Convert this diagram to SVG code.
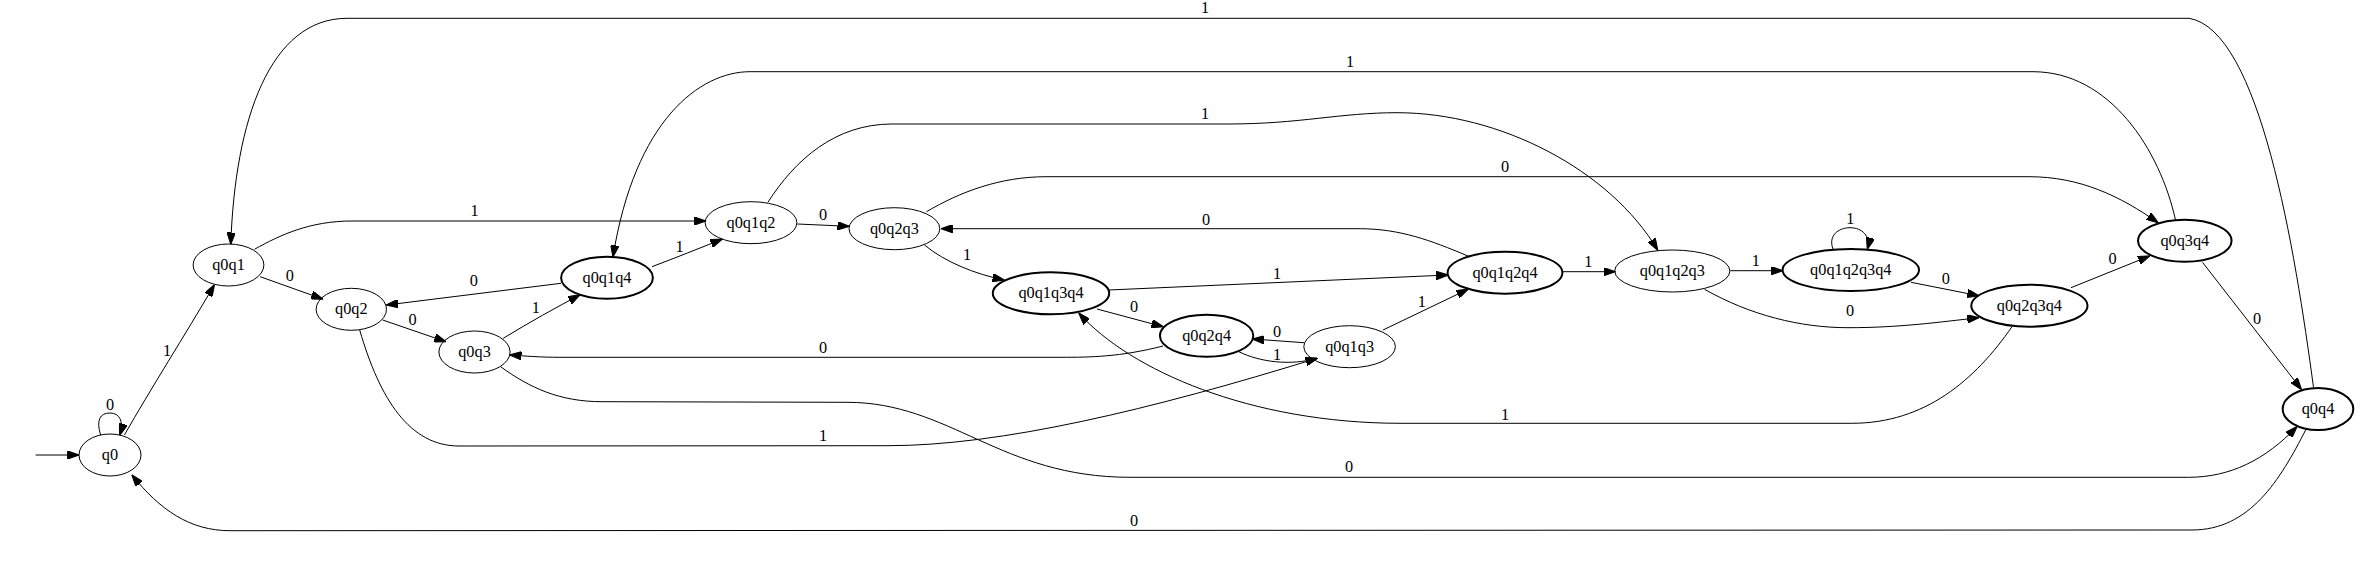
<svg xmlns="http://www.w3.org/2000/svg" width="2380" height="568" viewBox="0 0 2380 568">
<style>
.n ellipse{fill:none;stroke:#000;stroke-width:1}
.b ellipse{stroke-width:2}
text{font-family:"Liberation Serif","Times New Roman",serif;font-size:16.3px;text-anchor:middle;fill:#000}
#edges path{fill:none;stroke:#000;stroke-width:1;marker-end:url(#ah)}
</style>
<defs>
<marker id="ah" markerUnits="userSpaceOnUse" viewBox="0 0 12 8.4" markerWidth="12" markerHeight="8.4" refX="11.5" refY="4.2" orient="auto">
<path d="M0,0 L12,4.2 L0,8.4 z" fill="#000" stroke="#000" stroke-width="1"/>
</marker>
</defs>
<rect width="2380" height="568" fill="#fff"/>
<g id="edges">
<path d="M35.6,455 L78.8,455"/>
<path d="M100.6,435 C96,420 100,413 110,413 C120,413 124,422 119.8,435"/>
<path d="M124.4,435 C150,390 185,335 214.3,285"/>
<path d="M260.2,276.7 L322.6,299"/>
<path d="M254.5,249.3 C280,235 310,221 352,221 L705.6,221"/>
<path d="M382.7,320 L445.8,341.7"/>
<path d="M359.7,330 C380,400 410,446 459,446 L888,445.7 C1000,445.7 1150,410 1317,358.3"/>
<path d="M503.2,338.3 C530,322 555,308 579.8,295"/>
<path d="M561,283.3 L386.5,305"/>
<path d="M500.6,366.7 C530,388 560,401.7 602,401.7 L847,402.3 C950,402.3 1000,477.3 1130,477.3 L2188.5,477.3 C2230,477.3 2265,460 2296.9,426.7"/>
<path d="M652,266.7 C675,258 700,248 722,239.3"/>
<path d="M797.4,224 L849,226.3"/>
<path d="M767.9,202.3 C795,160 835,124 892,124 L1228,124 C1300,124 1340,112.7 1397,112.7 C1500,112.7 1610,170 1657.6,250"/>
<path d="M924.5,245 C945,262 975,274 1004,280"/>
<path d="M926.5,211.7 C960,192 1000,176.7 1046,176.7 L2029,176.7 C2080,176.7 2120,196 2158,222.7"/>
<path d="M1108.7,290 L1447.8,275"/>
<path d="M1097,309 L1163,326.7"/>
<path d="M1163,346 C1120,357 1090,357.3 1061,357.3 L560,357.3 C540,357.3 525,356 510,355"/>
<path d="M1238.8,351.7 C1260,362 1290,366 1317,358.3"/>
<path d="M1304,342.7 L1252.7,339"/>
<path d="M1383,330 L1467.9,289.3"/>
<path d="M1467.9,256 C1430,240 1400,229 1360.7,228.7 L941.3,228.7"/>
<path d="M1562.5,271.7 L1615,271.7"/>
<path d="M1730.4,270.7 L1782.6,270.7"/>
<path d="M1833,249 C1828,236 1838,227.7 1850,227.7 C1862,227.7 1871,236 1867.4,249"/>
<path d="M1704.5,289.3 C1750,315 1800,327.7 1848,327.7 C1900,327.7 1940,322 1978.7,317.7"/>
<path d="M1911,282.3 L1978.7,295.7"/>
<path d="M2071,287.7 L2149.6,256"/>
<path d="M2012,326.7 C1975,380 1925,423.3 1851.8,423.3 L1401,423.3 C1250,423.3 1130,370 1079,313.3"/>
<path d="M2202.5,262.3 L2301.3,389.3"/>
<path d="M2175.5,220 C2160,150 2110,71.7 2033,71.7 L750,71.7 C700,71.7 635,120 613,256.7"/>
<path d="M2313.5,387.3 C2295,250 2260,30 2189,18.3 L347,18.3 C270,18.3 235,120 230.8,244"/>
<path d="M2306,429.3 C2280,480 2250,530 2192,530 L230,530.7 C190,530.7 160,510 132,475"/>
</g>
<g id="edge-labels">
<text x="110" y="409.5">0</text>
<text x="167" y="355.5">1</text>
<text x="289.7" y="280.5">0</text>
<text x="474.5" y="216">1</text>
<text x="412.5" y="324.5">0</text>
<text x="823" y="441">1</text>
<text x="535.8" y="312.5">1</text>
<text x="473.8" y="285.5">0</text>
<text x="1349" y="471.5">0</text>
<text x="679.6" y="251.5">1</text>
<text x="823" y="219.5">0</text>
<text x="1205" y="118.8">1</text>
<text x="967" y="259.5">1</text>
<text x="1505" y="171.5">0</text>
<text x="1277" y="278.8">1</text>
<text x="1134" y="312.2">0</text>
<text x="823" y="353.2">0</text>
<text x="1277" y="359.5">1</text>
<text x="1277" y="336.5">0</text>
<text x="1421.9" y="306.5">1</text>
<text x="1206" y="224.5">0</text>
<text x="1588.4" y="266.5">1</text>
<text x="1755.8" y="265.5">1</text>
<text x="1850.4" y="223.8">1</text>
<text x="1850" y="315.5">0</text>
<text x="1945.8" y="283.8">0</text>
<text x="2112.6" y="263.8">0</text>
<text x="1505" y="419.8">1</text>
<text x="2257" y="323.8">0</text>
<text x="1350" y="67.2">1</text>
<text x="1205" y="12.8">1</text>
<text x="1134" y="526">0</text>
</g>
<g id="q0" class="n"><ellipse cx="110" cy="455" rx="31" ry="21"/><text x="110" y="460">q0</text></g>
<g id="q0q1" class="n"><ellipse cx="228.5" cy="265" rx="35.4" ry="21"/><text x="228.5" y="270">q0q1</text></g>
<g id="q0q2" class="n"><ellipse cx="351.3" cy="309.3" rx="35.2" ry="21"/><text x="351.3" y="314.3">q0q2</text></g>
<g id="q0q3" class="n"><ellipse cx="474.5" cy="352" rx="35.6" ry="21"/><text x="474.5" y="357">q0q3</text></g>
<g id="q0q1q4" class="n b"><ellipse cx="607" cy="277.7" rx="45.9" ry="21"/><text x="607" y="282.7">q0q1q4</text></g>
<g id="q0q1q2" class="n"><ellipse cx="751" cy="222.7" rx="45.9" ry="21"/><text x="751" y="227.7">q0q1q2</text></g>
<g id="q0q2q3" class="n"><ellipse cx="894.4" cy="228.7" rx="45.4" ry="21"/><text x="894.4" y="233.7">q0q2q3</text></g>
<g id="q0q1q3q4" class="n b"><ellipse cx="1051" cy="293.3" rx="58.2" ry="21"/><text x="1051" y="298.3">q0q1q3q4</text></g>
<g id="q0q2q4" class="n b"><ellipse cx="1206.6" cy="335.7" rx="46.7" ry="21"/><text x="1206.6" y="340.7">q0q2q4</text></g>
<g id="q0q1q3" class="n"><ellipse cx="1349.6" cy="346.7" rx="45.8" ry="21"/><text x="1349.6" y="351.7">q0q1q3</text></g>
<g id="q0q1q2q4" class="n b"><ellipse cx="1505" cy="272.7" rx="57.4" ry="21"/><text x="1505" y="277.7">q0q1q2q4</text></g>
<g id="q0q1q2q3" class="n"><ellipse cx="1672.3" cy="271" rx="57.6" ry="21"/><text x="1672.3" y="276">q0q1q2q3</text></g>
<g id="q0q1q2q3q4" class="n b"><ellipse cx="1850.8" cy="270" rx="68.2" ry="21"/><text x="1850.8" y="275">q0q1q2q3q4</text></g>
<g id="q0q2q3q4" class="n b"><ellipse cx="2029.4" cy="305.7" rx="58.1" ry="21"/><text x="2029.4" y="310.7">q0q2q3q4</text></g>
<g id="q0q3q4" class="n b"><ellipse cx="2184.8" cy="240.7" rx="46.8" ry="21"/><text x="2184.8" y="245.7">q0q3q4</text></g>
<g id="q0q4" class="n b"><ellipse cx="2318" cy="409" rx="35.3" ry="21"/><text x="2318" y="414">q0q4</text></g>
</svg>
